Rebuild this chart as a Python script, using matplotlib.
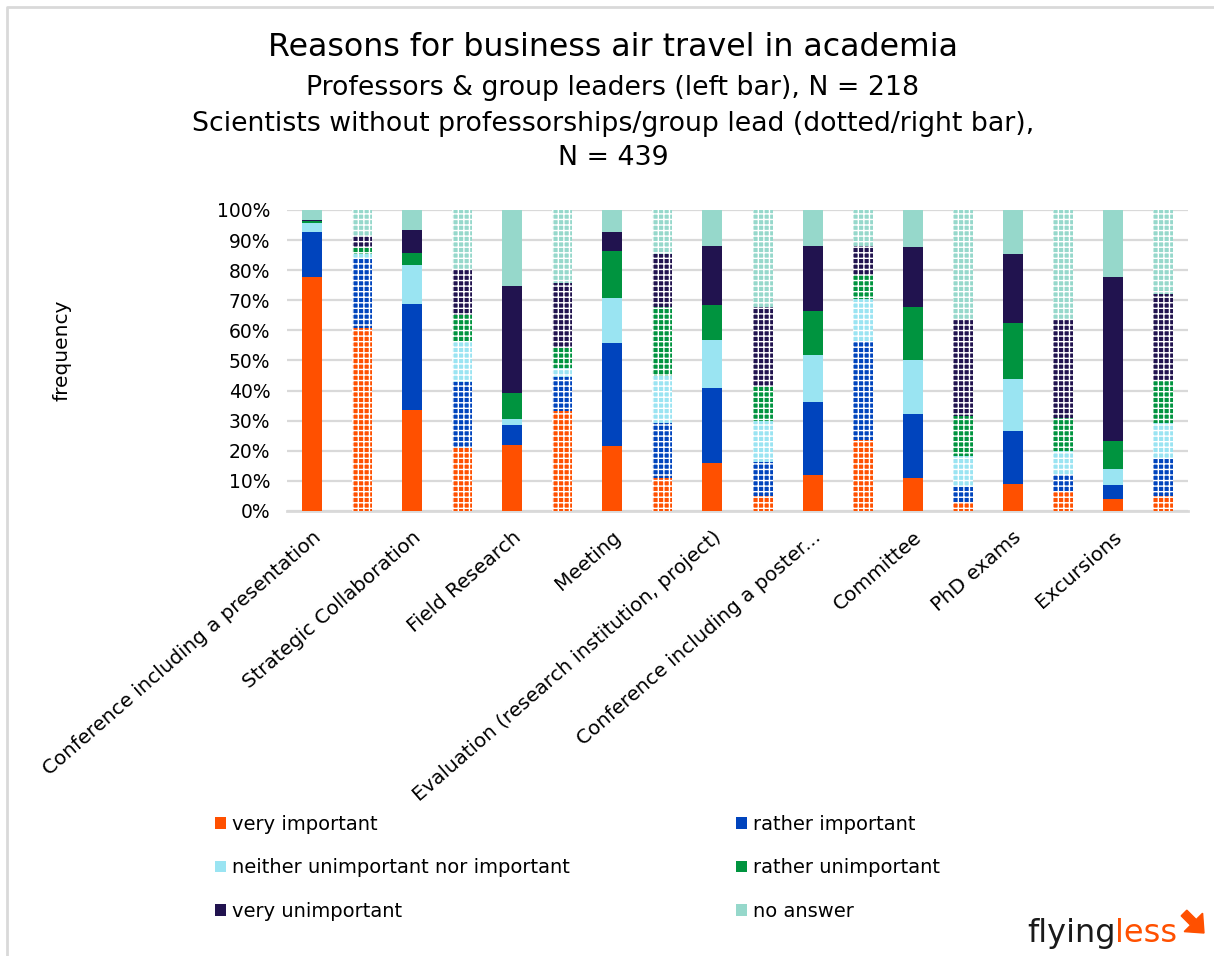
import numpy as np
import matplotlib
matplotlib.use("Agg")
import matplotlib.pyplot as plt
from matplotlib.patches import Patch, FancyArrow
from matplotlib.lines import Line2D
from matplotlib.transforms import ScaledTranslation

plt.rcParams['font.family'] = ['DejaVu Sans']
plt.rcParams['hatch.color'] = 'white'
plt.rcParams['hatch.linewidth'] = 1.0

categories = ['Conference including a presentation', 'Strategic Collaboration', 'Field Research',
              'Meeting', 'Evaluation (research institution, project)', 'Conference including a poster...',
              'Committee', 'PhD exams', 'Excursions']
levels = ['very important', 'rather important', 'neither unimportant nor important',
          'rather unimportant', 'very unimportant', 'no answer']
colors = ['#FF5000', '#0044BD', '#9AE4F2', '#00943F', '#21134F', '#96D8CB']

# professors & group leaders (left, solid bars), percent
prof_very_imp = [77.6, 33.6, 22.0, 21.7, 15.8, 11.9, 11.0, 9.1, 4.1]
prof_rather_imp = [15.1, 35.1, 6.5, 34.2, 25.1, 24.4, 21.1, 17.6, 4.5]
prof_neither = [3.1, 12.9, 2.2, 14.7, 15.9, 15.4, 18.2, 17.1, 5.3]
prof_rather_unimp = [0.4, 4.1, 8.5, 15.8, 11.6, 14.8, 17.5, 18.6, 9.2]
prof_very_unimp = [0.4, 7.8, 35.5, 6.4, 19.7, 21.6, 19.8, 22.9, 54.5]
prof_no_answer = [3.4, 6.5, 25.3, 7.2, 11.9, 11.9, 12.4, 14.7, 22.4]

# scientists without professorship / group lead (right, dotted bars), percent
sci_very_imp = [60.9, 20.8, 33.1, 11.1, 5.0, 23.7, 3.0, 6.3, 5.0]
sci_rather_imp = [22.8, 22.1, 11.4, 18.1, 11.4, 32.5, 5.1, 5.7, 12.7]
sci_neither = [1.5, 13.3, 3.1, 15.7, 13.4, 14.2, 10.2, 7.8, 11.5]
sci_rather_unimp = [2.6, 8.9, 6.6, 23.0, 11.7, 8.0, 13.2, 11.2, 14.0]
sci_very_unimp = [3.7, 14.9, 21.4, 17.4, 26.1, 9.5, 32.3, 32.5, 29.0]
sci_no_answer = [8.5, 20.0, 24.4, 14.7, 32.4, 12.1, 36.2, 36.5, 27.8]

prof = [prof_very_imp, prof_rather_imp, prof_neither, prof_rather_unimp, prof_very_unimp, prof_no_answer]
sci = [sci_very_imp, sci_rather_imp, sci_neither, sci_rather_unimp, sci_very_unimp, sci_no_answer]

fig = plt.figure(figsize=(12.14, 9.56), dpi=100)
ax = fig.add_axes([0.2364, 0.4655, 0.7422, 0.3149])

x_prof = np.arange(len(categories)) * 2
x_sci = x_prof + 1
w = 0.4

bottom_p = np.zeros(len(categories))
bottom_s = np.zeros(len(categories))
for i in range(len(levels)):
    vp = np.array(prof[i]) / 100
    vs = np.array(sci[i]) / 100
    ax.bar(x_prof, vp, w, bottom=bottom_p, color=colors[i], linewidth=0, zorder=3)
    ax.bar(x_sci, vs, w, bottom=bottom_s, color=colors[i], edgecolor='white',
           linewidth=0, hatch='+++', zorder=3)
    bottom_p += vp
    bottom_s += vs

ax.set_xlim(-0.5, 2 * len(categories) - 0.5)
ax.set_ylim(0, 1)
ax.set_yticks(np.arange(0, 1.01, 0.1))
ax.set_yticklabels([f'{int(round(t * 100))}%' for t in np.arange(0, 1.01, 0.1)], fontsize=13.5)
ax.yaxis.grid(True, color='#D9D9D9', linewidth=1.6, zorder=0)
ax.set_axisbelow(True)
for s in ['top', 'right', 'left']:
    ax.spines[s].set_visible(False)
ax.spines['bottom'].set_color('#D9D9D9')
ax.spines['bottom'].set_linewidth(2)
ax.tick_params(axis='y', length=0, pad=12)
ax.tick_params(axis='x', length=0, pad=17)
ax.set_xticks(x_prof)
ax.set_xticklabels(categories, rotation=41, ha='right', va='center', rotation_mode='anchor', fontsize=14.3)
for lab in ax.get_xticklabels():
    lab.set_transform(lab.get_transform() + ScaledTranslation(0.06, 0, fig.dpi_scale_trans))

fig.text(62 / 1214, 1 - 350 / 956, 'frequency', rotation=90, ha='center', va='center', fontsize=14.5)

# titles
cx = 613 / 1214
fig.text(cx, 1 - 48 / 956, 'Reasons for business air travel in academia', ha='center', va='center', fontsize=22.8)
fig.text(cx, 1 - 88 / 956, 'Professors & group leaders (left bar), N = 218', ha='center', va='center', fontsize=19.3)
fig.text(cx, 1 - 124 / 956, 'Scientists without professorships/group lead (dotted/right bar),',
         ha='center', va='center', fontsize=19.3)
fig.text(cx, 1 - 158 / 956, 'N = 439', ha='center', va='center', fontsize=19.3)

# legend, two columns placed separately
handles = [Patch(facecolor=c, edgecolor='none') for c in colors]
leg_kw = dict(frameon=False, fontsize=14, handlelength=0.55, handleheight=0.55,
              handletextpad=0.3, labelspacing=1.25, borderpad=0, borderaxespad=0)
fig.legend([handles[0], handles[2], handles[4]], [levels[0], levels[2], levels[4]],
           loc='upper left', bbox_to_anchor=(215 / 1214, 1 - 815 / 956), **leg_kw)
fig.legend([handles[1], handles[3], handles[5]], [levels[1], levels[3], levels[5]],
           loc='upper left', bbox_to_anchor=(736 / 1214, 1 - 815 / 956), **leg_kw)

# chart area border (top and left only)
fig.add_artist(Line2D([7 / 1214, 7 / 1214, 1], [0, 1 - 7 / 956, 1 - 7 / 956],
                      color='#D9D9D9', linewidth=2, transform=fig.transFigure))

# logo
t1 = fig.text(1027 / 1214, 1 - 942 / 956, 'flying', ha='left', va='baseline', fontsize=23, color='#1A1A1A')
ax.annotate('less', xy=(1, 0), xycoords=t1, xytext=(0, 0), textcoords='offset points',
            ha='left', va='bottom', fontsize=23, color='#FF5000', annotation_clip=False)
fig.add_artist(FancyArrow(11.84, 0.43, 0.2, -0.2, width=0.08, head_width=0.26,
                          head_length=0.15, length_includes_head=True, color='#FF5000',
                          transform=fig.dpi_scale_trans))

fig.savefig('out.png', dpi=100, facecolor='white')
